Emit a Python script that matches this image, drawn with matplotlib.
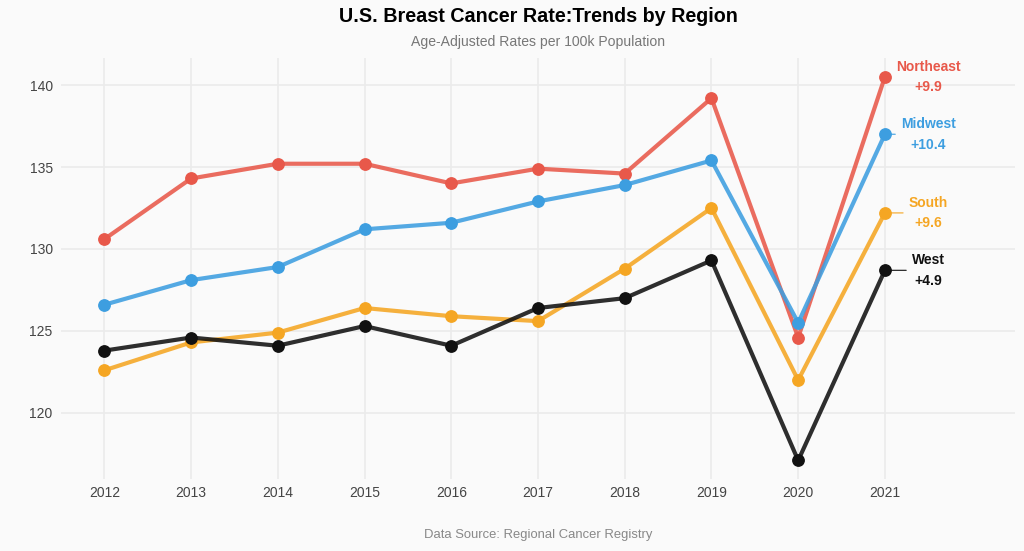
import matplotlib
matplotlib.use("Agg")
import matplotlib.pyplot as plt

years = [2012, 2013, 2014, 2015, 2016, 2017, 2018, 2019, 2020, 2021]
regions = ["Northeast", "Midwest", "South", "West"]
northeast = [130.6, 134.3, 135.2, 135.2, 134.0, 134.9, 134.6, 139.2, 124.6, 140.5]
midwest = [126.6, 128.1, 128.9, 131.2, 131.6, 132.9, 133.9, 135.4, 125.5, 137.0]
south = [122.6, 124.3, 124.9, 126.4, 125.9, 125.6, 128.8, 132.5, 122.0, 132.2]
west = [123.8, 124.6, 124.1, 125.3, 124.1, 126.4, 127.0, 129.3, 117.1, 128.7]
colors = {"Northeast": "#E8584A", "Midwest": "#3D9EE0", "South": "#F5A623", "West": "#111111"}
series = {"Northeast": northeast, "Midwest": midwest, "South": south, "West": west}
yticks = [120, 125, 130, 135, 140]

plt.rcParams['font.family'] = ['Liberation Sans', 'DejaVu Sans']
bg = "#FAFAFA"
fig = plt.figure(figsize=(10.24, 5.51), dpi=100, facecolor=bg)
ax = fig.add_axes([61/1024, 1 - 479/551, (1015-61)/1024, (479-58)/551])
ax.set_facecolor(bg)

for name in regions:
    vals = series[name]
    c = colors[name]
    ax.plot(years, vals, color=c, lw=3.0, alpha=0.88, solid_capstyle='round', zorder=3)
    ax.plot(years, vals, 'o', color=c, ms=8.2, zorder=4)
    change = vals[-1] - vals[0]
    ax.annotate(f"{name}\n+{change:.1f}", xy=(years[-1], vals[-1]),
                xytext=(years[-1] + 0.5, vals[-1]), textcoords='data',
                ha='center', va='center', color=c, fontsize=10, fontweight='bold',
                linespacing=1.6, zorder=5,
                arrowprops=dict(arrowstyle='-', color=c, lw=0.8, shrinkA=2, shrinkB=0))

ax.set_xlim(2011.5, 2022.5)
ax.set_ylim(115.97, 141.65)
ax.set_xticks(years)
ax.set_xticklabels([str(y) for y in years])
ax.set_yticks(yticks)
ax.grid(True, color="#EBEBEB", lw=1.2, zorder=0)
ax.set_axisbelow(True)
for s in ax.spines.values():
    s.set_visible(False)
ax.tick_params(axis='both', length=0, labelsize=10, colors="#444444")
ax.tick_params(axis='x', pad=5)
ax.tick_params(axis='y', pad=6)

cx = (61 + 1015) / 2 / 1024
fig.text(cx, 1 - 17/551, "U.S. Breast Cancer Rate:Trends by Region", ha='center', va='center',
         fontsize=14.2, fontweight='bold', color='black')
fig.text(cx, 1 - 42/551, "Age-Adjusted Rates per 100k Population", ha='center', va='center',
         fontsize=10.1, color='#777777')
fig.text(cx, 1 - 535/551, "Data Source: Regional Cancer Registry", ha='center', va='center',
         fontsize=9.4, color='#888888')

fig.savefig("out.png", dpi=100, facecolor=bg)
